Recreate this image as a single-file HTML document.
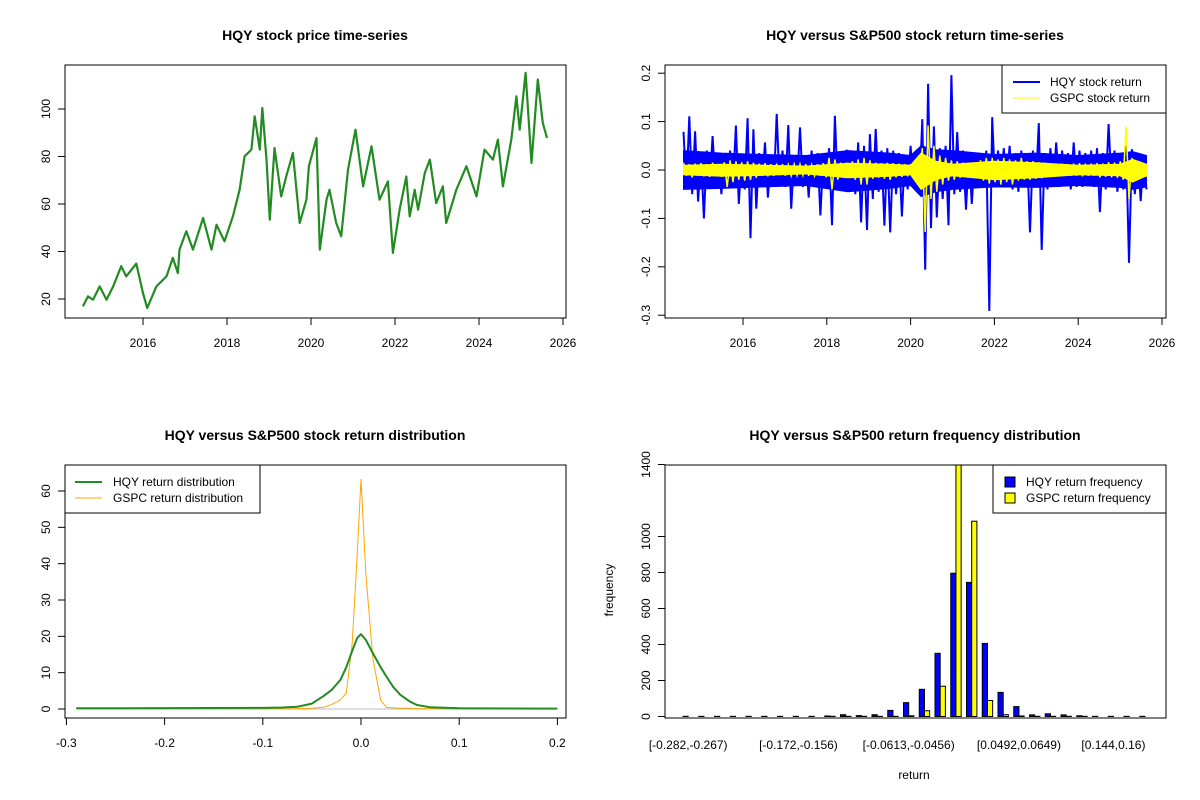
<!DOCTYPE html>
<html><head><meta charset="utf-8"><title>HQY vs S&amp;P500</title>
<style>
html,body{margin:0;padding:0;background:#fff;}
svg{display:block;font-family:"Liberation Sans",Arial,sans-serif;}
.title{font-size:14px;font-weight:bold;text-anchor:middle;}
.tick{font-size:12px;}
.leg{font-size:12px;}
</style></head>
<body>
<svg id="chart" width="1200" height="800" viewBox="0 0 1200 800">
<rect x="0" y="0" width="1200" height="800" fill="#fff"/>
<text class="title" x="315" y="40">HQY stock price time-series</text>
<text class="title" x="915" y="40">HQY versus S&amp;P500 stock return time-series</text>
<text class="title" x="315" y="440">HQY versus S&amp;P500 stock return distribution</text>
<text class="title" x="915" y="440">HQY versus S&amp;P500 return frequency distribution</text>
<g id="p1"></g>
<g id="p2"></g>
<g id="p3"></g>
<g id="p4"></g>
<text class="tick" x="613" y="590" text-anchor="middle" transform="rotate(-90 613 590)">frequency</text>
<text class="tick" x="914" y="779" text-anchor="middle">return</text>
</svg>
<script>
// ---------- DATA ----------
const priceYears=[2014.57,2014.69,2014.81,2014.97,2015.13,2015.29,2015.48,2015.60,2015.84,2016.0,2016.10,2016.32,2016.56,2016.71,2016.83,2016.87,2017.03,2017.19,2017.43,2017.63,2017.75,2017.94,2018.14,2018.30,2018.42,2018.58,2018.66,2018.78,2018.84,2018.94,2019.02,2019.13,2019.29,2019.41,2019.57,2019.73,2019.89,2019.95,2020.13,2020.21,2020.37,2020.44,2020.60,2020.72,2020.88,2021.06,2021.24,2021.44,2021.63,2021.83,2021.95,2022.11,2022.27,2022.35,2022.47,2022.55,2022.71,2022.83,2022.98,2023.14,2023.22,2023.34,2023.46,2023.70,2023.94,2024.13,2024.33,2024.45,2024.57,2024.77,2024.89,2024.97,2025.11,2025.25,2025.40,2025.52,2025.62];
const priceValues=[16.9,21.1,19.7,25.3,19.7,25.3,33.8,29.5,34.9,22.5,16.2,25.3,29.5,37.3,30.9,40.8,48.5,40.8,54.1,40.8,51.3,44.3,54.8,66.0,80.1,82.9,96.9,82.9,100.4,78.7,53.4,83.6,63.2,71.6,81.5,52.0,61.8,75.9,87.8,40.8,61.8,66.0,52.0,46.4,74.5,91.3,67.4,84.3,61.8,69.5,39.4,57.6,71.6,54.8,66.0,57.6,73.1,78.7,60.4,67.4,52.0,59.0,66.0,75.9,63.2,82.9,78.7,87.1,67.4,87.1,105.3,91.3,115.2,77.3,112.4,94.1,87.8];
const priceTicksY=[20,40,60,80,100];
const yearTicks=[2016,2018,2020,2022,2024,2026];

const returnStart=2014.58, returnEnd=2025.63;
const hqyReturns=[0.079,-0.040,0.111,-0.050,0.080,-0.065,0.030,-0.100,0.040,-0.030,
0.070,-0.035,0.030,-0.050,0.035,-0.030,0.040,-0.035,0.092,-0.070,
0.030,-0.040,0.107,-0.141,0.084,-0.080,0.035,-0.030,0.057,-0.057,
0.030,-0.035,0.116,-0.030,0.040,-0.035,0.093,-0.080,0.030,-0.030,
0.088,-0.035,0.030,-0.057,0.040,-0.030,0.035,-0.094,0.030,-0.035,
0.045,-0.114,0.112,-0.040,0.035,-0.030,0.042,-0.035,0.040,-0.050,
0.057,-0.108,0.050,-0.124,0.074,-0.060,0.085,-0.045,0.040,-0.115,
0.045,-0.129,0.040,-0.050,0.035,-0.096,0.030,-0.040,0.050,-0.035,
0.040,-0.045,0.105,-0.206,0.178,-0.120,0.090,-0.098,0.045,-0.060,
0.050,-0.114,0.196,-0.050,0.078,-0.045,0.040,-0.082,0.035,-0.070,
0.030,-0.035,0.035,-0.030,0.040,-0.291,0.109,-0.032,0.040,-0.030,
0.045,-0.035,0.050,-0.040,0.035,-0.045,0.040,-0.035,0.035,-0.129,
0.040,-0.035,0.097,-0.165,0.035,-0.040,0.045,-0.030,0.057,-0.035,
0.040,-0.030,0.035,-0.040,0.057,-0.035,0.040,-0.035,0.035,-0.030,
0.040,-0.035,0.045,-0.087,0.035,-0.040,0.095,-0.035,0.040,-0.045,
0.035,-0.040,0.050,-0.192,0.043,-0.050,0.030,-0.064,0.030,-0.040];
const gspcReturns=[0.015,-0.012,0.012,-0.015,0.013,-0.012,0.014,-0.013,0.012,-0.014,
0.015,-0.013,0.012,-0.014,0.016,-0.035,0.020,-0.025,0.018,-0.020,
0.016,-0.022,0.018,-0.020,0.015,-0.016,0.013,-0.012,0.014,-0.013,
0.012,-0.012,0.013,-0.011,0.012,-0.012,0.011,-0.012,0.012,-0.011,
0.012,-0.011,0.012,-0.012,0.011,-0.012,0.012,-0.012,0.014,-0.015,
0.025,-0.040,0.022,-0.020,0.015,-0.016,0.015,-0.014,0.018,-0.020,
0.022,-0.030,0.025,-0.030,0.020,-0.018,0.015,-0.016,0.014,-0.018,
0.015,-0.020,0.014,-0.015,0.013,-0.014,0.012,-0.013,0.012,-0.012,
0.014,-0.016,0.045,-0.128,0.092,-0.060,0.050,-0.045,0.030,-0.030,
0.025,-0.022,0.020,-0.020,0.018,-0.016,0.015,-0.015,0.014,-0.013,
0.015,-0.016,0.020,-0.022,0.025,-0.028,0.025,-0.025,0.022,-0.030,
0.025,-0.025,0.022,-0.030,0.020,-0.022,0.025,-0.020,0.018,-0.020,
0.018,-0.018,0.016,-0.017,0.015,-0.014,0.014,-0.013,0.013,-0.012,
0.013,-0.012,0.012,-0.012,0.013,-0.012,0.014,-0.013,0.013,-0.012,
0.013,-0.012,0.014,-0.015,0.013,-0.014,0.016,-0.015,0.015,-0.016,
0.018,-0.020,0.090,-0.060,0.025,-0.020,0.018,-0.016,0.014,-0.014];
// dense day-to-day band envelopes (read from the filled area)
const bandYears=[2014.58,2015.5,2016.5,2017.5,2018.5,2019.5,2020.0,2020.25,2020.6,2021.0,2022.0,2023.0,2024.0,2025.0,2025.3,2025.63];
const hqyBandHigh=[0.040,0.035,0.032,0.030,0.040,0.035,0.030,0.050,0.042,0.040,0.032,0.035,0.030,0.035,0.038,0.030];
const hqyBandLow=[-0.040,-0.038,-0.035,-0.032,-0.045,-0.038,-0.032,-0.055,-0.045,-0.040,-0.035,-0.036,-0.032,-0.036,-0.040,-0.035];
const gspcBandHigh=[0.010,0.012,0.010,0.008,0.014,0.012,0.010,0.035,0.018,0.012,0.018,0.015,0.010,0.012,0.022,0.012];
const gspcBandLow=[-0.010,-0.013,-0.011,-0.008,-0.016,-0.013,-0.010,-0.040,-0.020,-0.012,-0.020,-0.016,-0.010,-0.012,-0.025,-0.012];
const returnTicksY=[-0.3,-0.2,-0.1,0.0,0.1,0.2];
const returnTickLabels=["-0.3","-0.2","-0.1","0.0","0.1","0.2"];

const densityX=[-0.29,-0.1,-0.08,-0.065,-0.05,-0.038,-0.03,-0.021,-0.015,-0.009,-0.004,0,0.005,0.012,0.02,0.026,0.033,0.04,0.05,0.057,0.07,0.1,0.2];
const hqyDensity=[0.2,0.3,0.4,0.6,1.5,3.6,5.2,8,11.5,16,19.5,20.6,19,15.4,11.5,8.9,6,3.9,2,1.1,0.5,0.2,0.1];
const gspcDensity=[0,0,0,0.1,0.2,0.5,1.2,2.5,4.4,18,42,63.3,37,14,2.5,0.4,0.3,0.2,0.2,0.1,0.1,0,0];
const densityTicksX=[-0.3,-0.2,-0.1,0,0.1,0.2];
const densityTickLabels=["-0.3","-0.2","-0.1","0.0","0.1","0.2"];
const densityTicksY=[0,10,20,30,40,50,60];

const hqyFreq=[1,1,1,1,1,1,1,1,1,3,10,5,10,34,77,151,351,796,745,406,134,55,9,15,9,4,1,1,1,1];
const gspcFreq=[0,0,0,0,0,0,0,0,0,1,1,1,1,1,4,32,168,1480,1085,89,10,3,1,1,1,1,0,0,0,0];
const histLabelIdx=[0,7,14,21,27];
const histLabels=["[-0.282,-0.267)","[-0.172,-0.156)","[-0.0613,-0.0456)","[0.0492,0.0649)","[0.144,0.16)"];
const histTicksY=[0,200,400,600,800,1000,1400];

// ---------- HELPERS ----------
const NS="http://www.w3.org/2000/svg";
function mk(parent,tag,attrs){const e=document.createElementNS(NS,tag);for(const k in attrs)e.setAttribute(k,attrs[k]);parent.appendChild(e);return e;}
function box(g,x,y,w,h){const r=mk(g,'rect',{x:x,y:y,width:w,height:h,fill:'none',stroke:'#000','stroke-width':1});

}
function xTick(g,x,y0,label,ly){const l=mk(g,'line',{x1:x,x2:x,y1:y0,y2:y0+7,stroke:'#000'});


const t=mk(g,'text',{x:x,y:ly,'text-anchor':'middle','class':'tick'});t.textContent=label;

}
function yTick(g,y,x0,label){const l=mk(g,'line',{x1:x0-7,x2:x0,y1:y,y2:y,stroke:'#000'});


const lx=x0-15;const t=mk(g,'text',{x:lx,y:y,'text-anchor':'middle','class':'tick',transform:'rotate(-90 '+lx+' '+y+')'});t.textContent=label;

}

// ---------- PANEL 1: price ----------
(function(){
const g=document.getElementById('p1');
const L=65,T=65,W=501,H=253;
const sx=y=>143+(y-2016)*42, sy=v=>299-(v-20)*2.375;
box(g,L,T,W,H);
const pts=priceYears.map((y,i)=>sx(y).toFixed(1)+','+sy(priceValues[i]).toFixed(1)).join(' ');
const pl=mk(g,'polyline',{points:pts,fill:'none',stroke:'#228B22','stroke-width':2.2,'stroke-linejoin':'round'});


yearTicks.forEach(y=>xTick(g,sx(y),T+H,String(y),347));
priceTicksY.forEach(v=>yTick(g,sy(v),L,String(v)));
})();

// ---------- PANEL 2: returns ----------
(function(){
const g=document.getElementById('p2');
const L=665,T=65,W=501,H=253;
const sx=y=>743+(y-2016)*41.9, sy=v=>170-v*484;
box(g,L,T,W,H);
function band(hi,lo,color,name){
  const up=bandYears.map((y,i)=>sx(y).toFixed(1)+','+sy(hi[i]).toFixed(1));
  const dn=bandYears.map((y,i)=>sx(y).toFixed(1)+','+sy(lo[i]).toFixed(1)).reverse();
  const p=mk(g,'polygon',{points:up.concat(dn).join(' '),fill:color,stroke:color,'stroke-width':1});
  
  
}
band(hqyBandHigh,hqyBandLow,'#0000FF','hqy-return-band');
const n=hqyReturns.length, step=(returnEnd-returnStart)/(n-1);
const p1=hqyReturns.map((v,i)=>sx(returnStart+i*step).toFixed(1)+','+sy(v).toFixed(1)).join(' ');
const a=mk(g,'polyline',{points:p1,fill:'none',stroke:'#0000FF','stroke-width':2});


band(gspcBandHigh,gspcBandLow,'#FFFF00','gspc-return-band');
const m=gspcReturns.length, step2=(returnEnd-returnStart)/(m-1);
const p2=gspcReturns.map((v,i)=>sx(returnStart+i*step2).toFixed(1)+','+sy(v).toFixed(1)).join(' ');
const b=mk(g,'polyline',{points:p2,fill:'none',stroke:'#FFFF00','stroke-width':1.5});


yearTicks.forEach(y=>xTick(g,sx(y),T+H,String(y),347));
returnTicksY.forEach((v,i)=>yTick(g,sy(v),L,returnTickLabels[i]));
const lg=mk(g,'g',{});


mk(lg,'rect',{x:1002,y:65,width:164,height:48,fill:'#fff',stroke:'#000'});
mk(lg,'line',{x1:1013,x2:1040,y1:82,y2:82,stroke:'#0000FF','stroke-width':2});
mk(lg,'line',{x1:1013,x2:1040,y1:98,y2:98,stroke:'#FFFF00','stroke-width':1});
const t1=mk(lg,'text',{x:1050,y:86,'class':'leg'});t1.textContent='HQY stock return';
const t2=mk(lg,'text',{x:1050,y:102,'class':'leg'});t2.textContent='GSPC stock return';
})();

// ---------- PANEL 3: density ----------
(function(){
const g=document.getElementById('p3');
const L=65,T=465,W=501,H=253;
const sx=v=>361+v*982, sy=v=>709-v*3.633;
box(g,L,T,W,H);
const base=mk(g,'line',{x1:sx(-0.29),x2:sx(0.2),y1:sy(0),y2:sy(0),stroke:'#bebebe'});


const pg=densityX.map((x,i)=>sx(x).toFixed(1)+','+sy(gspcDensity[i]).toFixed(1)).join(' ');
const o=mk(g,'polyline',{points:pg,fill:'none',stroke:'#FFA500','stroke-width':1});


const ph=densityX.map((x,i)=>sx(x).toFixed(1)+','+sy(hqyDensity[i]).toFixed(1)).join(' ');
const gr=mk(g,'polyline',{points:ph,fill:'none',stroke:'#228B22','stroke-width':2,'stroke-linejoin':'round'});


densityTicksX.forEach((v,i)=>xTick(g,sx(v),T+H,densityTickLabels[i],747));
densityTicksY.forEach(v=>yTick(g,sy(v),L,String(v)));
const lg=mk(g,'g',{});


mk(lg,'rect',{x:65,y:465,width:195,height:48,fill:'#fff',stroke:'#000'});
mk(lg,'line',{x1:75,x2:102,y1:482,y2:482,stroke:'#228B22','stroke-width':2});
mk(lg,'line',{x1:75,x2:102,y1:498,y2:498,stroke:'#FFA500','stroke-width':1});
const t1=mk(lg,'text',{x:113,y:486,'class':'leg'});t1.textContent='HQY return distribution';
const t2=mk(lg,'text',{x:113,y:502,'class':'leg'});t2.textContent='GSPC return distribution';
})();

// ---------- PANEL 4: histogram ----------
(function(){
const g=document.getElementById('p4');
const L=665,T=465,W=501,H=253;
const sy=v=>716.5-v*0.18;
const gx=k=>683+k*15.75, bw=5.2;
mk(g,'defs',{}).innerHTML='<clipPath id="c4"><rect x="665" y="465" width="501" height="253"/></clipPath>';
const bars=mk(g,'g',{'clip-path':'url(#c4)'});
hqyFreq.forEach((v,k)=>{
  const r=mk(bars,'rect',{x:gx(k),y:sy(v),width:bw,height:Math.max(0,sy(0)-sy(v)),fill:'#0000FF',stroke:'#000','stroke-width':1});
  
  
});
gspcFreq.forEach((v,k)=>{
  const r=mk(bars,'rect',{x:gx(k)+bw,y:sy(v),width:bw,height:Math.max(0,sy(0)-sy(v)),fill:'#FFFF00',stroke:'#000','stroke-width':1});
  
  
});
box(g,L,T,W,H);
histLabelIdx.forEach((k,i)=>{
  const t=mk(g,'text',{x:gx(k)+bw,y:749,'text-anchor':'middle','class':'tick'});t.textContent=histLabels[i];
  
  
});
histTicksY.forEach(v=>yTick(g,sy(v),L,String(v)));
const lg=mk(g,'g',{});


mk(lg,'rect',{x:993,y:465,width:173,height:48,fill:'#fff',stroke:'#000'});
mk(lg,'rect',{x:1005,y:477,width:10,height:10,fill:'#0000FF',stroke:'#000'});
mk(lg,'rect',{x:1005,y:493,width:10,height:10,fill:'#FFFF00',stroke:'#000'});
const t1=mk(lg,'text',{x:1026,y:486,'class':'leg'});t1.textContent='HQY return frequency';
const t2=mk(lg,'text',{x:1026,y:502,'class':'leg'});t2.textContent='GSPC return frequency';
})();
</script>
</body></html>
